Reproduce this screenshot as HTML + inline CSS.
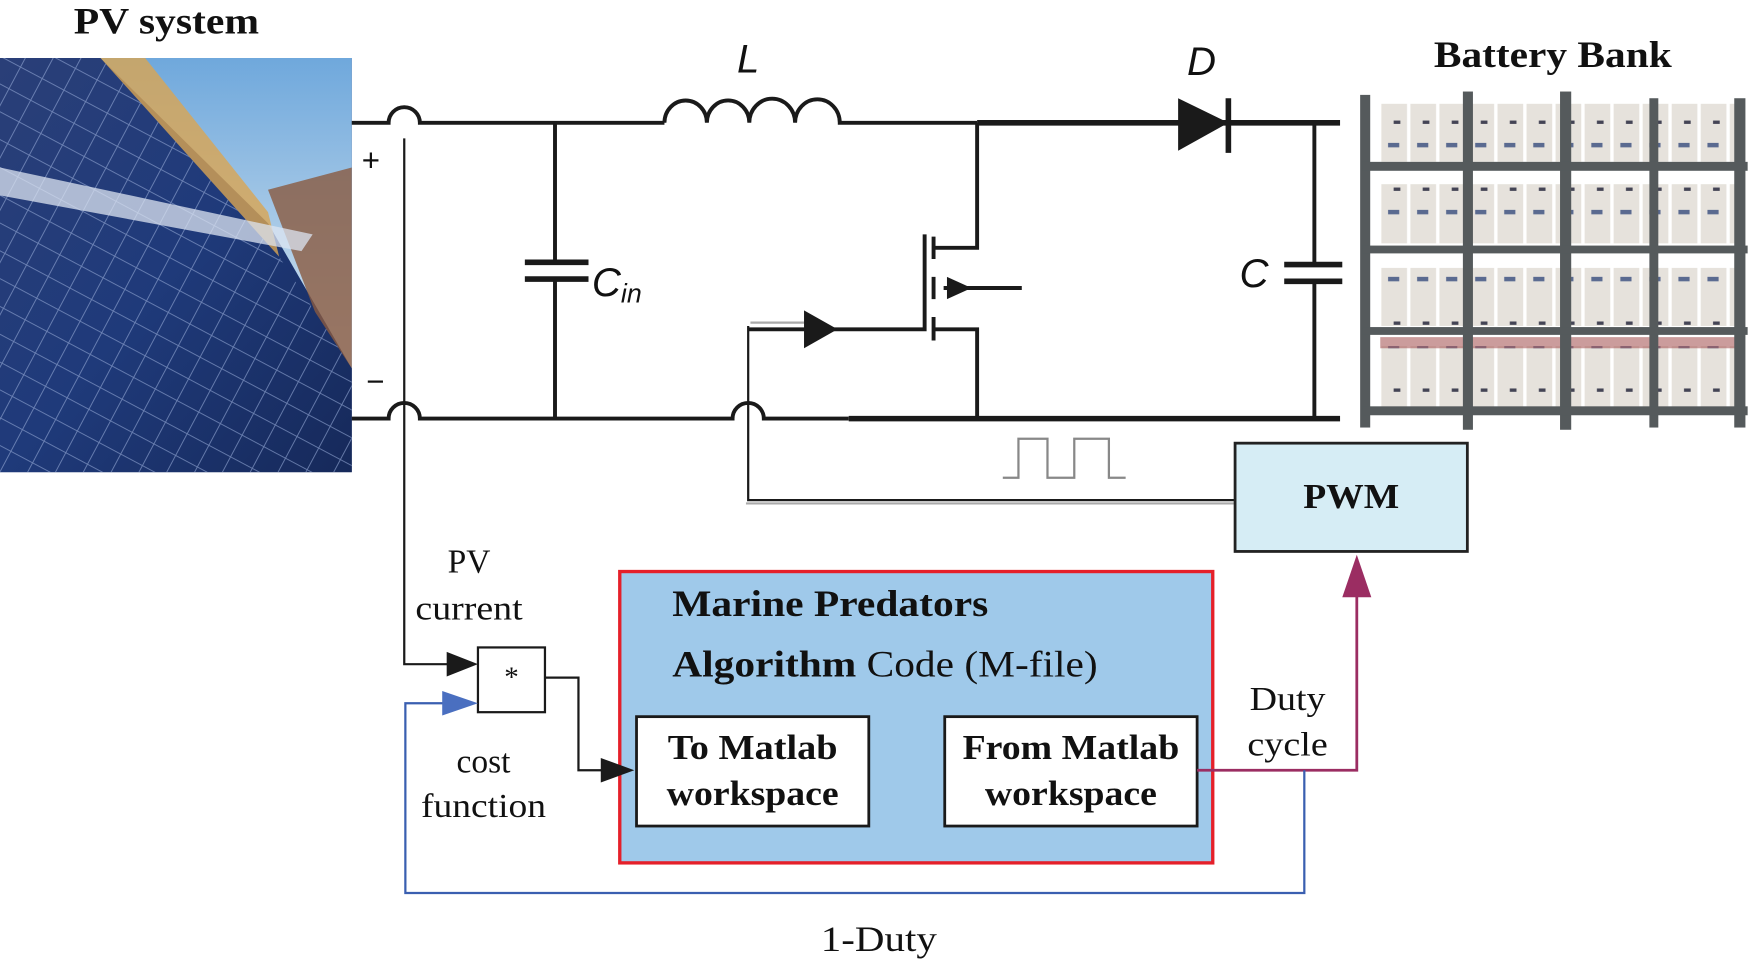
<!DOCTYPE html>
<html><head><meta charset="utf-8"><style>
html,body{margin:0;padding:0;background:#fff;}
svg{display:block;}
text{font-family:"Liberation Serif",serif;fill:#111;}
text.s{font-family:"Liberation Sans",sans-serif;}
</style></head><body>
<svg width="1751" height="960" viewBox="0 0 1568 860" preserveAspectRatio="none" xmlns="http://www.w3.org/2000/svg">
<defs>
<linearGradient id="sky" x1="0" y1="0" x2="0" y2="1"><stop offset="0" stop-color="#6fa8dc"/><stop offset="1" stop-color="#d8e6f0"/></linearGradient>
<linearGradient id="pan" x1="0" y1="0" x2="1" y2="1"><stop offset="0" stop-color="#2a3f78"/><stop offset="0.5" stop-color="#1f3a7a"/><stop offset="1" stop-color="#16295a"/></linearGradient>
<pattern id="cells" width="22" height="22" patternUnits="userSpaceOnUse" patternTransform="rotate(28)">
<rect width="22" height="22" fill="none"/><path d="M0 0H22M0 0V22" stroke="#8fa3d0" stroke-width="1.6" opacity="0.7"/></pattern>
<pattern id="bat" width="26" height="60" patternUnits="userSpaceOnUse" x="1236" y="0">
<rect x="1" y="0" width="23" height="60" fill="#e6e2dc"/><rect x="7" y="8" width="10" height="4" fill="#5a6a90"/><rect x="12" y="48" width="6" height="3" fill="#445"/></pattern>
</defs>

<!-- PV photo -->
<rect x="0" y="52" width="315" height="371" fill="url(#pan)"/>
<polygon points="90,52 315,52 315,330 240,200" fill="url(#sky)"/>
<polygon points="240,170 315,150 315,330 290,300" fill="#8a5a40" opacity="0.8"/>
<polygon points="60,52 130,52 240,190 250,230" fill="#d9a552" opacity="0.8"/>
<polygon points="0,52 90,52 250,230 315,330 315,423 0,423" fill="url(#pan)"/>
<polygon points="0,52 90,52 250,230 315,330 315,423 0,423" fill="url(#cells)"/>
<polygon points="0,150 0,175 270,225 280,210" fill="#dce4f2" opacity="0.75"/>

<!-- Labels -->
<text x="66" y="30" font-size="33" font-weight="bold" textLength="166" lengthAdjust="spacingAndGlyphs">PV system</text>
<text x="1284" y="60" font-size="33" font-weight="bold" textLength="213" lengthAdjust="spacingAndGlyphs">Battery Bank</text>

<!-- Battery rack -->
<g>
<rect x="1236" y="93" width="320" height="52" fill="url(#bat)"/>
<rect x="1236" y="165" width="320" height="53" fill="url(#bat)"/>
<rect x="1236" y="240" width="320" height="52" fill="url(#bat)"/>
<rect x="1236" y="310" width="320" height="55" fill="url(#bat)"/>
<rect x="1236" y="302" width="320" height="10" fill="#a85a5a" opacity="0.6"/>
<g fill="#555a5c">
<rect x="1218" y="85" width="9" height="298"/><rect x="1310" y="82" width="9" height="303"/><rect x="1397" y="82" width="10" height="303"/><rect x="1477" y="88" width="8" height="295"/><rect x="1553" y="88" width="10" height="295"/>
<rect x="1220" y="145" width="345" height="8"/><rect x="1220" y="220" width="345" height="7"/><rect x="1220" y="293" width="345" height="7"/><rect x="1220" y="364" width="345" height="8"/>
</g>
</g>

<!-- Circuit -->
<g fill="none" stroke="#1a1a1a" stroke-width="3.5">
<path d="M315 110H348A14 14 0 0 1 376 110H595"/>
<path d="M595 110A19 20 0 0 1 633 110A19 20 0 0 1 671 110A19 20 0 0 1 712 110A19 20 0 0 1 752 110H875"/>
<path d="M875 110H1200" stroke-width="5"/>
<path d="M315 375H348A14 14 0 0 1 376 375H656A14 14 0 0 1 684 375H760"/>
<path d="M760 375H1200" stroke-width="5"/>
<path d="M497 110V235M497 250V375"/>
<path d="M470 235H527M470 250H527" stroke-width="5"/>
<path d="M1177 110V237M1177 252V375"/>
<path d="M1150 237H1202M1150 252H1202" stroke-width="5"/>
<path d="M875 110V222H836M875 375V295H836"/>
<path d="M670 295H828V210"/>
<path d="M836 212V232M836 248V268M836 284V305"/>
<path d="M845 258H915"/>
<path d="M362 124V595H410" stroke-width="2"/>
<path d="M488 607H518V690H545" stroke-width="2"/>
</g>
<path d="M670 292V448H1105" fill="none" stroke="#1a1a1a" stroke-width="2"/>
<path d="M672 289H720M668 451H1105" fill="none" stroke="#aaa" stroke-width="2"/>
<polygon points="1055,88 1100,110 1055,135" fill="#1a1a1a"/>
<path d="M1100 88V137" stroke="#1a1a1a" stroke-width="5"/>
<polygon points="720,278 750,295 720,312" fill="#1a1a1a"/>
<polygon points="848,248 870,258 848,268" fill="#1a1a1a"/>
<path d="M898 428H912V393H938V428H962V393H993V428H1008" fill="none" stroke="#888" stroke-width="2"/>
<text class="s" x="660" y="65" font-size="36" font-style="italic">L</text>
<text class="s" x="1063" y="67" font-size="36" font-style="italic">D</text>
<text class="s" x="530" y="265" font-size="36" font-style="italic">C<tspan font-size="24" dy="6">in</tspan></text>
<text class="s" x="1110" y="257" font-size="36" font-style="italic">C</text>
<text class="s" x="324" y="153" font-size="28">+</text>
<text class="s" x="328" y="351" font-size="28">−</text>

<!-- PWM -->
<rect x="1106" y="397" width="208" height="97" fill="#d6edf5" stroke="#222" stroke-width="2.5"/>
<text x="1210" y="455" font-size="31" font-weight="bold" text-anchor="middle" textLength="86" lengthAdjust="spacingAndGlyphs">PWM</text>

<!-- multiplier -->
<polygon points="400,584 428,595 400,606" fill="#1a1a1a"/>
<rect x="428" y="580" width="60" height="58" fill="#fff" stroke="#1a1a1a" stroke-width="2"/>
<text x="458" y="615" font-size="26" text-anchor="middle">*</text>
<text x="420" y="513" font-size="30" text-anchor="middle">PV</text>
<text x="420" y="555" font-size="30" text-anchor="middle" textLength="96" lengthAdjust="spacingAndGlyphs">current</text>
<text x="433" y="692" font-size="30" text-anchor="middle">cost</text>
<text x="433" y="732" font-size="30" text-anchor="middle" textLength="112" lengthAdjust="spacingAndGlyphs">function</text>

<!-- main box -->
<rect x="555" y="512" width="531" height="261" fill="#9fc9ea" stroke="#e5202a" stroke-width="3"/>
<text x="602" y="552" font-size="33" font-weight="bold" textLength="283" lengthAdjust="spacingAndGlyphs">Marine Predators</text>
<text x="602" y="606" font-size="33" textLength="381" lengthAdjust="spacingAndGlyphs"><tspan font-weight="bold">Algorithm</tspan> Code (M-file)</text>
<polygon points="538,679 568,690 538,701" fill="#1a1a1a"/>
<rect x="570" y="642" width="208" height="98" fill="#fff" stroke="#1a1a1a" stroke-width="2.5"/>
<text x="674" y="680" font-size="31" font-weight="bold" text-anchor="middle" textLength="152" lengthAdjust="spacingAndGlyphs">To Matlab</text>
<text x="674" y="721" font-size="31" font-weight="bold" text-anchor="middle" textLength="154" lengthAdjust="spacingAndGlyphs">workspace</text>
<rect x="846" y="642" width="226" height="98" fill="#fff" stroke="#1a1a1a" stroke-width="2.5"/>
<text x="959" y="680" font-size="31" font-weight="bold" text-anchor="middle" textLength="194" lengthAdjust="spacingAndGlyphs">From Matlab</text>
<text x="959" y="721" font-size="31" font-weight="bold" text-anchor="middle" textLength="154" lengthAdjust="spacingAndGlyphs">workspace</text>

<!-- purple & blue -->
<path d="M1072 690H1215V530" fill="none" stroke="#9b2d62" stroke-width="2.5"/>
<polygon points="1202,535 1215,497 1228,535" fill="#9b2d62"/>
<path d="M1168 690V800H363V630H400" fill="none" stroke="#3a5fb0" stroke-width="2"/>
<polygon points="396,619 428,630 396,641" fill="#4a6fc0"/>
<text x="1153" y="636" font-size="30" text-anchor="middle" textLength="68" lengthAdjust="spacingAndGlyphs">Duty</text>
<text x="1153" y="677" font-size="30" text-anchor="middle" textLength="72" lengthAdjust="spacingAndGlyphs">cycle</text>
<text x="787" y="852" font-size="32" text-anchor="middle" textLength="104" lengthAdjust="spacingAndGlyphs">1-Duty</text>
</svg>
</body></html>
